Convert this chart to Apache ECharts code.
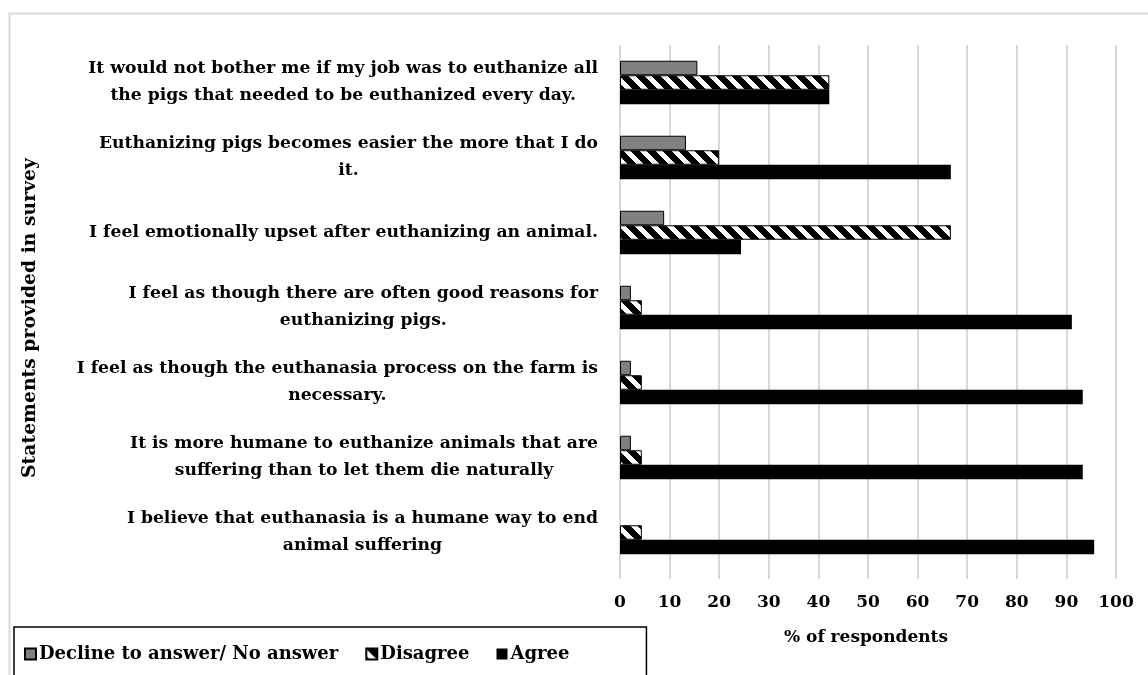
<!DOCTYPE html>
<html>
<head>
<meta charset="utf-8">
<script src="https://cdn.jsdelivr.net/npm/echarts@6/dist/echarts.min.js"></script>
<style>html,body{margin:0;padding:0;background:#fff}#c{width:1148px;height:675px}</style>
</head>
<body>
<div id="c"></div>
<script>
const categories = [
  "It would not bother me if my job was to euthanize all\nthe pigs that needed to be euthanized every day.",
  "Euthanizing pigs becomes easier the more that I do\nit.",
  "I feel emotionally upset after euthanizing an animal.",
  "I feel as though there are often good reasons for\neuthanizing pigs.",
  "I feel as though the euthanasia process on the farm is\nnecessary.",
  "It is more humane to euthanize animals that are\nsuffering than to let them die naturally",
  "I believe that euthanasia is a humane way to end\nanimal suffering"
];
const seriesNames = ["Decline to answer/ No answer", "Disagree", "Agree"];
const declineValues = [15.6, 13.3, 8.9, 2.2, 2.2, 2.2, 0];
const disagreeValues = [42.2, 20.0, 66.7, 4.4, 4.4, 4.4, 4.4];
const agreeValues = [42.2, 66.7, 24.4, 91.1, 93.3, 93.3, 95.6];
const xTicks = [0, 10, 20, 30, 40, 50, 60, 70, 80, 90, 100];

const FONT = "'DejaVu Serif'";

function stripeCanvas() {
  const s = 16;
  const c = document.createElement('canvas');
  c.width = s; c.height = s;
  const ctx = c.getContext('2d');
  const img = ctx.createImageData(s, s);
  for (let y = 0; y < s; y++) {
    for (let x = 0; x < s; x++) {
      const d = ((x - y) % s + s) % s;
      const v = d < 9 ? 0 : 255;
      const i = (y * s + x) * 4;
      img.data[i] = v; img.data[i + 1] = v; img.data[i + 2] = v; img.data[i + 3] = 255;
    }
  }
  ctx.putImageData(img, 0, 0);
  return c;
}

const chart = echarts.init(document.getElementById('c'), null, { renderer: 'canvas' });
const labelFmt = v => v.split('\n').map(l => '{c|' + l + '}').join('\n');
const noZeroBorder = arr => arr.map(v => v === 0 ? { value: v, itemStyle: { borderWidth: 0 } } : v);

const option = {
  backgroundColor: '#fff',
  animation: false,
  graphic: [{
    type: 'rect', left: 7, top: 11, shape: { width: 1300, height: 800 },
    style: { fill: null, stroke: '#d9d9d9', lineWidth: 2 }, z: -10, silent: true
  }],
  legend: {
    left: 14, top: 627,
    data: seriesNames,
    icon: 'rect', itemWidth: 11, itemHeight: 11, itemGap: 27,
    borderColor: '#000', borderWidth: 1.5,
    padding: [18, 77, 40, 10],
    textStyle: { fontFamily: FONT, fontWeight: 'bold', fontSize: 18, color: '#000', padding: [0, 0, 0, -2] }
  },
  grid: [
    { left: 620, top: 45, width: 496, height: 525, containLabel: false },
    { left: 620, top: 45, width: 496, height: 534, containLabel: false }
  ],
  xAxis: [
    { gridIndex: 0, type: 'value', min: 0, max: 100, interval: 10, show: false },
    {
      gridIndex: 1, type: 'value', min: 0, max: 100, interval: 10,
      axisLine: { show: false }, axisTick: { show: false },
      splitLine: { show: true, lineStyle: { color: '#d9d9d9', width: 2 } },
      axisLabel: {
        margin: 15, color: '#000', fontFamily: FONT, fontWeight: 'bold', fontSize: 17,
        formatter: v => xTicks.includes(v) ? String(v) : ''
      },
      name: '% of respondents', nameLocation: 'middle', nameGap: 50,
      nameTextStyle: { color: '#000', fontFamily: FONT, fontWeight: 'bold', fontSize: 17, padding: [0, 4, 0, 0] }
    }
  ],
  yAxis: [
    {
      gridIndex: 0, type: 'category', data: categories, inverse: true,
      axisLine: { show: false }, axisTick: { show: false }, splitLine: { show: false },
      axisLabel: {
        margin: 22, color: '#000', fontFamily: FONT, fontWeight: 'bold', fontSize: 17.2,
        lineHeight: 27, formatter: labelFmt,
        rich: { c: { align: 'center', color: '#000', fontFamily: FONT, fontWeight: 'bold', fontSize: 17.2, lineHeight: 27 } }
      }
    },
    {
      gridIndex: 1, type: 'value', min: 0, max: 1,
      axisLine: { show: false }, axisTick: { show: false }, splitLine: { show: false },
      axisLabel: { show: false },
      name: 'Statements provided in survey', nameLocation: 'middle', nameRotate: 90, nameGap: 580,
      nameTextStyle: { color: '#000', fontFamily: FONT, fontWeight: 'bold', fontSize: 18.8, padding: [0, 12, 0, 0] }
    }
  ],
  series: [
    {
      name: seriesNames[0], type: 'bar', xAxisIndex: 0, yAxisIndex: 0, data: noZeroBorder(declineValues),
      barWidth: 14.5, barGap: '0%',
      itemStyle: { color: '#808080', borderColor: '#000', borderWidth: 1 }
    },
    {
      name: seriesNames[1], type: 'bar', xAxisIndex: 0, yAxisIndex: 0, data: noZeroBorder(disagreeValues),
      barWidth: 14.5, barGap: '0%',
      itemStyle: { color: { image: stripeCanvas(), repeat: 'repeat' }, borderColor: '#000', borderWidth: 1 }
    },
    {
      name: seriesNames[2], type: 'bar', xAxisIndex: 0, yAxisIndex: 0, data: agreeValues,
      barWidth: 14.5, barGap: '0%',
      itemStyle: { color: '#000', borderColor: '#000', borderWidth: 0 }
    }
  ]
};
chart.setOption(option);
</script>
</body>
</html>
